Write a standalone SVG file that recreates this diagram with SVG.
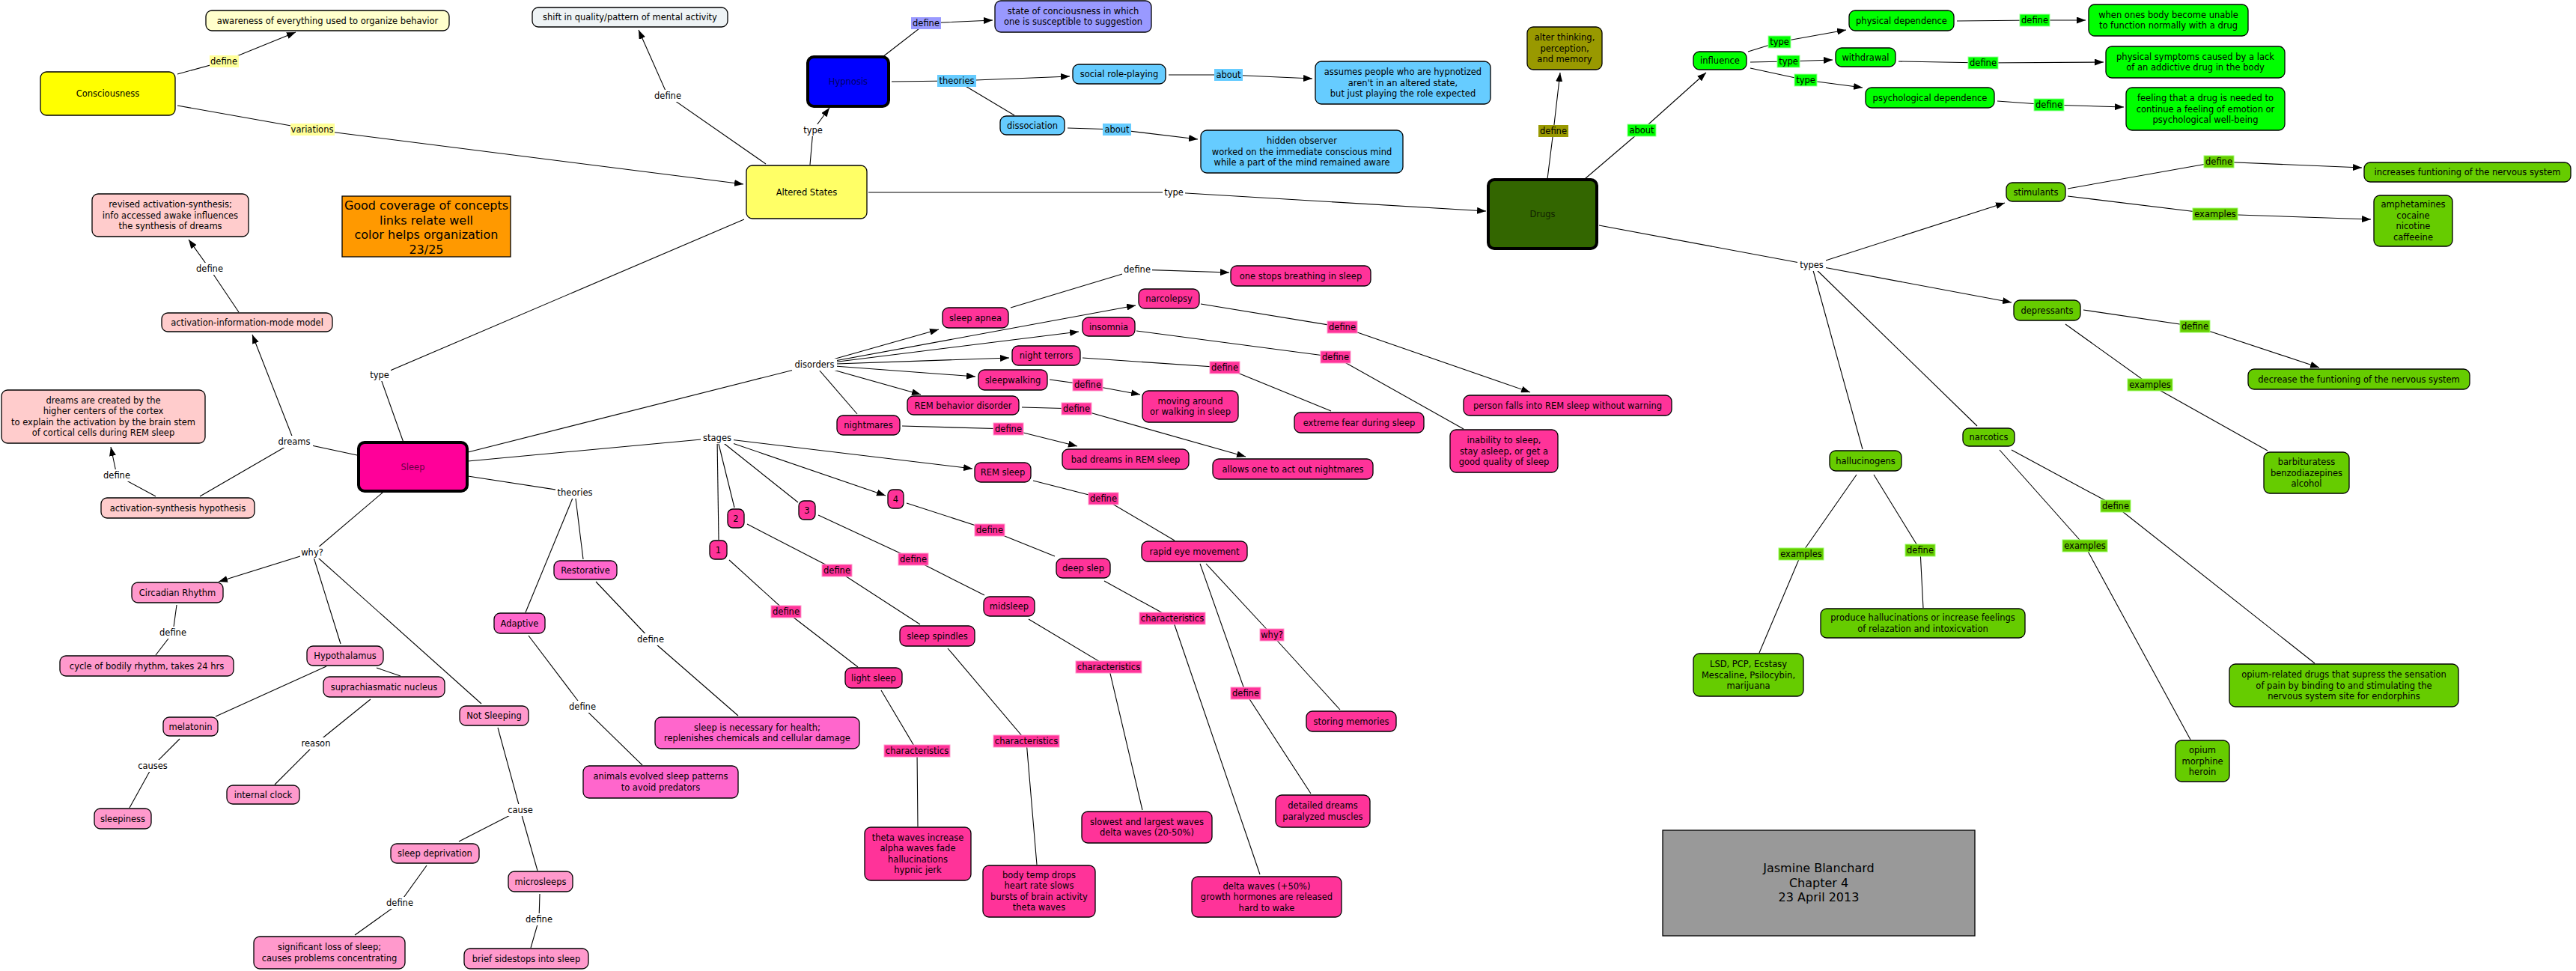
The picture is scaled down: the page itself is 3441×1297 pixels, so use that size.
<svg xmlns="http://www.w3.org/2000/svg" width="3441" height="1297" viewBox="0 0 3441 1297">
<defs>
<marker id="arr" viewBox="0 0 12 9" refX="12" refY="4.5" markerWidth="12" markerHeight="9" markerUnits="userSpaceOnUse" orient="auto"><path d="M0,0 L12,4.5 L0,9 z" fill="#000"/></marker>
<style>
text{font-family:"DejaVu Sans",Verdana,sans-serif;font-size:11.5px;text-anchor:middle;fill:#000}
.n{stroke:#000;stroke-width:1.3}
.thick{stroke:#000;stroke-width:4}
.big{font-size:16px}
.c line,.c polyline{stroke:#000;stroke-width:1.1;fill:none}
.a{marker-end:url(#arr)}
.lw{fill:#fff}
.ly{fill:#FFFF99}
.lv{fill:#9999FF}
.lb{fill:#66CCFF}
.lo{fill:#999900}
.lg{fill:#00FF00;stroke:#99FF99;stroke-width:1}
.ld{fill:#66CC00;stroke:#99FF66;stroke-width:1}
.lp{fill:#FF3399;stroke:#FF99CC;stroke-width:1}
</style>
</defs>
<rect width="3441" height="1297" fill="#fff"/>

<g id="connectors" class="c">
<polyline class="a" points="237,99 299,82 395,43"/>
<polyline class="a" points="237,141 417,173 993,246"/>
<polyline class="a" points="1023,219 892,128 853,40"/>
<polyline class="a" points="1082,220 1086,174 1108,144"/>
<polyline class="a" points="1179,76 1237,31 1326,27"/>
<polyline class="a" points="1191,109 1278,108 1429,102"/>
<polyline points="1278,108 1355,154"/>
<polyline class="a" points="1561,100 1641,100 1753,105"/>
<polyline class="a" points="1426,171 1492,173 1600,186"/>
<polyline class="a" points="1160,257 1568,257 1985,282"/>
<polyline points="994,293 507,501 539,591"/>
<polyline class="a" points="2067,239 2075,175 2084,97"/>
<polyline class="a" points="2117,239 2193,174 2279,97"/>
<polyline class="a" points="2335,69 2377,56 2466,40"/>
<polyline class="a" points="2338,83 2389,82 2448,80"/>
<polyline class="a" points="2338,91 2412,107 2488,117"/>
<polyline class="a" points="2614,28 2718,27 2786,27"/>
<polyline class="a" points="2536,82 2649,84 2810,83"/>
<polyline class="a" points="2668,135 2737,140 2837,143"/>
<polyline points="2136,301 2420,354"/>
<polyline class="a" points="2420,354 2678,271"/>
<polyline class="a" points="2420,354 2687,404"/>
<polyline points="2420,354 2488,600"/>
<polyline points="2420,354 2641,569"/>
<polyline class="a" points="2762,252 2964,216 3155,224"/>
<polyline class="a" points="2762,262 2959,286 3167,293"/>
<polyline class="a" points="2783,414 2932,436 3098,491"/>
<polyline points="2759,433 2872,514 3029,602"/>
<polyline points="2687,601 2826,676 3092,886"/>
<polyline points="2671,601 2785,729 2926,988"/>
<polyline points="2480,634 2406,740 2350,872"/>
<polyline points="2503,634 2565,735 2569,812"/>
<polyline class="a" points="477,608 393,590 337,447"/>
<polyline points="393,590 267,663"/>
<polyline class="a" points="208,663 156,635 148,597"/>
<polyline class="a" points="319,417 280,359 252,320"/>
<polyline points="625,604 1088,487"/>
<polyline class="a" points="1088,487 1254,440"/>
<polyline class="a" points="1088,487 1517,408"/>
<polyline class="a" points="1088,487 1441,443"/>
<polyline class="a" points="1088,487 1348,478"/>
<polyline class="a" points="1088,487 1303,503"/>
<polyline class="a" points="1088,487 1230,527"/>
<polyline points="1088,487 1145,553"/>
<polyline class="a" points="1350,411 1519,360 1642,364"/>
<polyline class="a" points="1604,406 1793,437 2044,524"/>
<polyline points="1518,442 1784,477 1955,573"/>
<polyline points="1446,478 1636,491 1778,549"/>
<polyline class="a" points="1402,507 1453,514 1523,527"/>
<polyline class="a" points="1365,544 1438,546 1664,610"/>
<polyline class="a" points="1205,569 1347,573 1439,596"/>
<polyline points="625,616 958,585"/>
<polyline class="a" points="958,585 1299,626"/>
<polyline class="a" points="958,585 1183,662"/>
<polyline points="958,585 1066,671"/>
<polyline points="958,585 981,678"/>
<polyline points="958,585 960,721"/>
<polyline points="1380,642 1474,666 1569,722"/>
<polyline points="1211,672 1322,708 1409,743"/>
<polyline points="1093,688 1220,747 1315,795"/>
<polyline points="998,700 1118,762 1229,834"/>
<polyline points="974,748 1050,817 1146,891"/>
<polyline points="1177,922 1225,1003 1226,1104"/>
<polyline points="1266,866 1371,990 1385,1155"/>
<polyline points="1374,827 1481,891 1526,1082"/>
<polyline points="1475,776 1566,826 1683,1168"/>
<polyline points="1611,753 1699,848 1790,948"/>
<polyline points="1603,753 1664,926 1751,1060"/>
<polyline points="625,636 768,658"/>
<polyline points="768,658 779,747"/>
<polyline points="768,658 702,818"/>
<polyline points="796,777 869,854 986,956"/>
<polyline points="706,849 778,944 858,1022"/>
<polyline points="511,658 417,738"/>
<polyline class="a" points="417,738 292,777"/>
<polyline points="417,738 455,860"/>
<polyline points="417,738 643,940"/>
<polyline points="236,808 231,845 208,875"/>
<polyline points="436,890 288,957"/>
<polyline points="503,892 535,903"/>
<polyline points="240,987 204,1023 173,1079"/>
<polyline points="495,934 422,993 367,1048"/>
<polyline points="665,972 695,1082"/>
<polyline points="695,1082 613,1124"/>
<polyline points="695,1082 718,1163"/>
<polyline points="570,1156 534,1206 474,1249"/>
<polyline points="721,1194 720,1228 709,1266"/>

<g id="labels">
<rect class="ly" x="280" y="74" width="39" height="16"/><text x="299" y="86">define</text>
<rect class="ly" x="388" y="165" width="59" height="16"/><text x="417" y="177">variations</text>
<rect class="lw" x="872" y="120" width="40" height="16"/><text x="892" y="132">define</text>
<rect class="lw" x="1071" y="166" width="30" height="16"/><text x="1086" y="178">type</text>
<rect class="lv" x="1217" y="23" width="40" height="16"/><text x="1237" y="35">define</text>
<rect class="lb" x="1252" y="100" width="52" height="16"/><text x="1278" y="112">theories</text>
<rect class="lb" x="1622" y="92" width="38" height="16"/><text x="1641" y="104">about</text>
<rect class="lb" x="1473" y="165" width="38" height="16"/><text x="1492" y="177">about</text>
<rect class="lw" x="1553" y="249" width="30" height="16"/><text x="1568" y="261">type</text>
<rect class="lw" x="492" y="493" width="30" height="16"/><text x="507" y="505">type</text>
<rect class="lo" x="2055" y="167" width="40" height="16"/><text x="2075" y="179">define</text>
<rect class="lg" x="2174" y="166" width="38" height="16"/><text x="2193" y="178">about</text>
<rect class="lg" x="2362" y="48" width="30" height="16"/><text x="2377" y="60">type</text>
<rect class="lg" x="2374" y="74" width="30" height="16"/><text x="2389" y="86">type</text>
<rect class="lg" x="2397" y="99" width="30" height="16"/><text x="2412" y="111">type</text>
<rect class="lg" x="2698" y="19" width="40" height="16"/><text x="2718" y="31">define</text>
<rect class="lg" x="2629" y="76" width="40" height="16"/><text x="2649" y="88">define</text>
<rect class="lg" x="2717" y="132" width="40" height="16"/><text x="2737" y="144">define</text>
<rect class="lw" x="2401" y="346" width="38" height="16"/><text x="2420" y="358">types</text>
<rect class="ld" x="2944" y="208" width="40" height="16"/><text x="2964" y="220">define</text>
<rect class="ld" x="2929" y="278" width="60" height="16"/><text x="2959" y="290">examples</text>
<rect class="ld" x="2912" y="428" width="40" height="16"/><text x="2932" y="440">define</text>
<rect class="ld" x="2842" y="506" width="60" height="16"/><text x="2872" y="518">examples</text>
<rect class="ld" x="2806" y="668" width="40" height="16"/><text x="2826" y="680">define</text>
<rect class="ld" x="2755" y="721" width="60" height="16"/><text x="2785" y="733">examples</text>
<rect class="ld" x="2376" y="732" width="60" height="16"/><text x="2406" y="744">examples</text>
<rect class="ld" x="2545" y="727" width="40" height="16"/><text x="2565" y="739">define</text>
<rect class="lw" x="368" y="582" width="50" height="16"/><text x="393" y="594">dreams</text>
<rect class="lw" x="136" y="627" width="40" height="16"/><text x="156" y="639">define</text>
<rect class="lw" x="260" y="351" width="40" height="16"/><text x="280" y="363">define</text>
<rect class="lw" x="1058" y="479" width="60" height="16"/><text x="1088" y="491">disorders</text>
<rect class="lw" x="1499" y="352" width="40" height="16"/><text x="1519" y="364">define</text>
<rect class="lp" x="1773" y="429" width="40" height="16"/><text x="1793" y="441">define</text>
<rect class="lp" x="1764" y="469" width="40" height="16"/><text x="1784" y="481">define</text>
<rect class="lp" x="1616" y="483" width="40" height="16"/><text x="1636" y="495">define</text>
<rect class="lp" x="1433" y="506" width="40" height="16"/><text x="1453" y="518">define</text>
<rect class="lp" x="1418" y="538" width="40" height="16"/><text x="1438" y="550">define</text>
<rect class="lp" x="1327" y="565" width="40" height="16"/><text x="1347" y="577">define</text>
<rect class="lw" x="936" y="577" width="44" height="16"/><text x="958" y="589">stages</text>
<rect class="lp" x="1454" y="658" width="40" height="16"/><text x="1474" y="670">define</text>
<rect class="lp" x="1302" y="700" width="40" height="16"/><text x="1322" y="712">define</text>
<rect class="lp" x="1200" y="739" width="40" height="16"/><text x="1220" y="751">define</text>
<rect class="lp" x="1098" y="754" width="40" height="16"/><text x="1118" y="766">define</text>
<rect class="lp" x="1030" y="809" width="40" height="16"/><text x="1050" y="821">define</text>
<rect class="lp" x="1181" y="995" width="88" height="16"/><text x="1225" y="1007">characteristics</text>
<rect class="lp" x="1327" y="982" width="88" height="16"/><text x="1371" y="994">characteristics</text>
<rect class="lp" x="1437" y="883" width="88" height="16"/><text x="1481" y="895">characteristics</text>
<rect class="lp" x="1522" y="818" width="88" height="16"/><text x="1566" y="830">characteristics</text>
<rect class="lp" x="1683" y="840" width="32" height="16"/><text x="1699" y="852">why?</text>
<rect class="lp" x="1644" y="918" width="40" height="16"/><text x="1664" y="930">define</text>
<rect class="lw" x="742" y="650" width="52" height="16"/><text x="768" y="662">theories</text>
<rect class="lw" x="849" y="846" width="40" height="16"/><text x="869" y="858">define</text>
<rect class="lw" x="758" y="936" width="40" height="16"/><text x="778" y="948">define</text>
<rect class="lw" x="401" y="730" width="32" height="16"/><text x="417" y="742">why?</text>
<rect class="lw" x="211" y="837" width="40" height="16"/><text x="231" y="849">define</text>
<rect class="lw" x="182" y="1015" width="44" height="16"/><text x="204" y="1027">causes</text>
<rect class="lw" x="400" y="985" width="44" height="16"/><text x="422" y="997">reason</text>
<rect class="lw" x="676" y="1074" width="38" height="16"/><text x="695" y="1086">cause</text>
<rect class="lw" x="514" y="1198" width="40" height="16"/><text x="534" y="1210">define</text>
<rect class="lw" x="700" y="1220" width="40" height="16"/><text x="720" y="1232">define</text>
</g>
</g>

<g id="n-consciousness"><rect class="n" x="54" y="96" width="180" height="58" rx="8" fill="#FFFF00"/><text x="144" y="129">Consciousness</text></g>
<g id="n-awareness"><rect class="n" x="275" y="14" width="325" height="27" rx="8" fill="#FFFFCC"/><text x="437.5" y="31.5">awareness of everything used to organize behavior</text></g>
<g id="n-shift"><rect class="n" x="711" y="10" width="261" height="26" rx="8" fill="#EEF3F5"/><text x="841.5" y="27">shift in quality/pattern of mental activity</text></g>
<g id="n-altered"><rect class="n" x="997" y="221" width="161" height="71" rx="8" fill="#FFFF66"/><text x="1077.5" y="260.5">Altered States</text></g>
<g id="n-hypnosis"><rect class="thick" x="1079" y="76" width="108" height="66" rx="8" fill="#0000FF"/><text x="1133" y="113" style="fill:#000066">Hypnosis</text></g>
<g id="n-state"><rect class="n" x="1329" y="1" width="209" height="42" rx="8" fill="#9999FF"/><text x="1433.5" y="18.5">state of conciousness in which<tspan x="1433.5" dy="14.5">one is susceptible to suggestion</tspan></text></g>
<g id="n-social"><rect class="n" x="1433" y="86" width="124" height="26" rx="8" fill="#66CCFF"/><text x="1495" y="103">social role-playing</text></g>
<g id="n-dissociation"><rect class="n" x="1336" y="155" width="86" height="25" rx="8" fill="#66CCFF"/><text x="1379" y="171.5">dissociation</text></g>
<g id="n-assumes"><rect class="n" x="1757" y="82" width="234" height="57" rx="8" fill="#66CCFF"/><text x="1874" y="100">assumes people who are hypnotized<tspan x="1874" dy="14.5">aren't in an altered state,</tspan><tspan x="1874" dy="14.5">but just playing the role expected</tspan></text></g>
<g id="n-hidden"><rect class="n" x="1604" y="174" width="270" height="57" rx="8" fill="#66CCFF"/><text x="1739" y="192">hidden observer<tspan x="1739" dy="14.5">worked on the immediate conscious mind</tspan><tspan x="1739" dy="14.5">while a part of the mind remained aware</tspan></text></g>
<g id="n-alter"><rect class="n" x="2040" y="36" width="100" height="57" rx="8" fill="#999900"/><text x="2090" y="54">alter thinking,<tspan x="2090" dy="14.5">perception,</tspan><tspan x="2090" dy="14.5">and memory</tspan></text></g>
<g id="n-drugs"><rect class="thick" x="1988" y="240" width="145" height="92" rx="8" fill="#336600"/><text x="2060.5" y="290" style="fill:#112200">Drugs</text></g>
<g id="n-influence"><rect class="n" x="2262" y="69" width="71" height="24" rx="8" fill="#00FF00"/><text x="2297.5" y="85">influence</text></g>
<g id="n-physdep"><rect class="n" x="2470" y="14" width="140" height="27" rx="8" fill="#00FF00"/><text x="2540" y="31.5">physical dependence</text></g>
<g id="n-withdrawal"><rect class="n" x="2452" y="64" width="80" height="25" rx="8" fill="#00FF00"/><text x="2492" y="80.5">withdrawal</text></g>
<g id="n-psychdep"><rect class="n" x="2492" y="117" width="172" height="27" rx="8" fill="#00FF00"/><text x="2578" y="134.5">psychological dependence</text></g>
<g id="n-when"><rect class="n" x="2790" y="6" width="213" height="42" rx="8" fill="#00FF00"/><text x="2896.5" y="23.75">when ones body become unable<tspan x="2896.5" dy="14.5">to function normally with a drug</tspan></text></g>
<g id="n-symptoms"><rect class="n" x="2813" y="62" width="239" height="42" rx="8" fill="#00FF00"/><text x="2932.5" y="79.75">physical symptoms caused by a lack<tspan x="2932.5" dy="14.5">of an addictive drug in the body</tspan></text></g>
<g id="n-feeling"><rect class="n" x="2840" y="117" width="212" height="57" rx="8" fill="#00FF00"/><text x="2946" y="135">feeling that a drug is needed to<tspan x="2946" dy="14.5">continue a feeling of emotion or</tspan><tspan x="2946" dy="14.5">psychological well-being</tspan></text></g>
<g id="n-stimulants"><rect class="n" x="2680" y="244" width="79" height="25" rx="8" fill="#66CC00"/><text x="2719.5" y="260.5">stimulants</text></g>
<g id="n-increases"><rect class="n" x="3158" y="217" width="276" height="26" rx="8" fill="#66CC00"/><text x="3296" y="234">increases funtioning of the nervous system</text></g>
<g id="n-amph"><rect class="n" x="3171" y="261" width="105" height="68" rx="8" fill="#66CC00"/><text x="3223.5" y="277.25">amphetamines<tspan x="3223.5" dy="14.5">cocaine</tspan><tspan x="3223.5" dy="14.5">nicotine</tspan><tspan x="3223.5" dy="14.5">caffeeine</tspan></text></g>
<g id="n-depressants"><rect class="n" x="2690" y="401" width="89" height="27" rx="8" fill="#66CC00"/><text x="2734.5" y="418.5">depressants</text></g>
<g id="n-decrease"><rect class="n" x="3003" y="493" width="296" height="27" rx="8" fill="#66CC00"/><text x="3151" y="510.5">decrease the funtioning of the nervous system</text></g>
<g id="n-barb"><rect class="n" x="3024" y="604" width="114" height="55" rx="8" fill="#66CC00"/><text x="3081" y="621">barbituratess<tspan x="3081" dy="14.5">benzodiazepines</tspan><tspan x="3081" dy="14.5">alcohol</tspan></text></g>
<g id="n-halluc"><rect class="n" x="2444" y="602" width="96" height="27" rx="8" fill="#66CC00"/><text x="2492" y="619.5">hallucinogens</text></g>
<g id="n-produce"><rect class="n" x="2432" y="813" width="273" height="39" rx="8" fill="#66CC00"/><text x="2568.5" y="829.25">produce hallucinations or increase feelings<tspan x="2568.5" dy="14.5">of relazation and intoxicvation</tspan></text></g>
<g id="n-lsd"><rect class="n" x="2262" y="873" width="147" height="57" rx="8" fill="#66CC00"/><text x="2335.5" y="891">LSD, PCP, Ecstasy<tspan x="2335.5" dy="14.5">Mescaline, Psilocybin,</tspan><tspan x="2335.5" dy="14.5">marijuana</tspan></text></g>
<g id="n-narcotics"><rect class="n" x="2622" y="572" width="69" height="24" rx="8" fill="#66CC00"/><text x="2656.5" y="588">narcotics</text></g>
<g id="n-opiumrel"><rect class="n" x="2978" y="887" width="306" height="57" rx="8" fill="#66CC00"/><text x="3131" y="905">opium-related drugs that supress the sensation<tspan x="3131" dy="14.5">of pain by binding to and stimulating the</tspan><tspan x="3131" dy="14.5">nervous system site for endorphins</tspan></text></g>
<g id="n-opium"><rect class="n" x="2906" y="989" width="72" height="55" rx="8" fill="#66CC00"/><text x="2942" y="1006">opium<tspan x="2942" dy="14.5">morphine</tspan><tspan x="2942" dy="14.5">heroin</tspan></text></g>
<g id="n-author"><rect class="n" x="2221" y="1109" width="417" height="141" fill="#999999"/><text class="big" x="2429.5" y="1165">Jasmine Blanchard<tspan x="2429.5" dy="19.5">Chapter 4</tspan><tspan x="2429.5" dy="19.5">23 April 2013</tspan></text></g>
<g id="n-grade"><rect class="n" x="457" y="262" width="225" height="81" fill="#FF9900"/><text class="big" x="569.5" y="280">Good coverage of concepts<tspan x="569.5" dy="19.5">links relate well</tspan><tspan x="569.5" dy="19.5">color helps organization</tspan><tspan x="569.5" dy="19.5">23/25</tspan></text></g>

<g id="n-sleep"><rect class="thick" x="479" y="591" width="145" height="65" rx="8" fill="#FF0099"/><text x="551.5" y="627.5" style="fill:#660044">Sleep</text></g>
<g id="n-revised"><rect class="n" x="123" y="259" width="209" height="57" rx="8" fill="#FFCCCC"/><text x="227.5" y="277">revised activation-synthesis;<tspan x="227.5" dy="14.5">info accessed awake influences</tspan><tspan x="227.5" dy="14.5">the synthesis of dreams</tspan></text></g>
<g id="n-aim"><rect class="n" x="216" y="418" width="228" height="25" rx="8" fill="#FFCCCC"/><text x="330" y="434.5">activation-information-mode model</text></g>
<g id="n-dreamsdef"><rect class="n" x="2" y="521" width="272" height="71" rx="8" fill="#FFCCCC"/><text x="138" y="538.75">dreams are created by the<tspan x="138" dy="14.5">higher centers of the cortex</tspan><tspan x="138" dy="14.5">to explain the activation by the brain stem</tspan><tspan x="138" dy="14.5">of cortical cells during REM sleep</tspan></text></g>
<g id="n-actsyn"><rect class="n" x="135" y="665" width="205" height="27" rx="8" fill="#FFCCCC"/><text x="237.5" y="682.5">activation-synthesis hypothesis</text></g>
<g id="n-apnea"><rect class="n" x="1259" y="411" width="88" height="27" rx="8" fill="#FF3399"/><text x="1303" y="428.5">sleep apnea</text></g>
<g id="n-narcolepsy"><rect class="n" x="1521" y="386" width="81" height="26" rx="8" fill="#FF3399"/><text x="1561.5" y="403">narcolepsy</text></g>
<g id="n-insomnia"><rect class="n" x="1446" y="424" width="70" height="25" rx="8" fill="#FF3399"/><text x="1481" y="440.5">insomnia</text></g>
<g id="n-onestops"><rect class="n" x="1644" y="355" width="187" height="27" rx="8" fill="#FF3399"/><text x="1737.5" y="372.5">one stops breathing in sleep</text></g>
<g id="n-personfalls"><rect class="n" x="1955" y="528" width="278" height="27" rx="8" fill="#FF3399"/><text x="2094" y="545.5">person falls into REM sleep without warning</text></g>
<g id="n-inability"><rect class="n" x="1937" y="574" width="144" height="57" rx="8" fill="#FF3399"/><text x="2009" y="592">inability to sleep,<tspan x="2009" dy="14.5">stay asleep, or get a</tspan><tspan x="2009" dy="14.5">good quality of sleep</tspan></text></g>
<g id="n-extreme"><rect class="n" x="1729" y="551" width="173" height="27" rx="8" fill="#FF3399"/><text x="1815.5" y="568.5">extreme fear during sleep</text></g>
<g id="n-terrors"><rect class="n" x="1352" y="462" width="91" height="26" rx="8" fill="#FF3399"/><text x="1397.5" y="479">night terrors</text></g>
<g id="n-sleepwalking"><rect class="n" x="1307" y="494" width="92" height="27" rx="8" fill="#FF3399"/><text x="1353" y="511.5">sleepwalking</text></g>
<g id="n-moving"><rect class="n" x="1526" y="522" width="128" height="42" rx="8" fill="#FF3399"/><text x="1590" y="539.75">moving around<tspan x="1590" dy="14.5">or walking in sleep</tspan></text></g>
<g id="n-rbd"><rect class="n" x="1212" y="529" width="149" height="25" rx="8" fill="#FF3399"/><text x="1286.5" y="545.5">REM behavior disorder</text></g>
<g id="n-allows"><rect class="n" x="1620" y="613" width="214" height="27" rx="8" fill="#FF3399"/><text x="1727" y="630.5">allows one to act out nightmares</text></g>
<g id="n-nightmares"><rect class="n" x="1118" y="555" width="84" height="26" rx="8" fill="#FF3399"/><text x="1160" y="572">nightmares</text></g>
<g id="n-baddreams"><rect class="n" x="1419" y="600" width="169" height="27" rx="8" fill="#FF3399"/><text x="1503.5" y="617.5">bad dreams in REM sleep</text></g>
<g id="n-remsleep"><rect class="n" x="1302" y="618" width="75" height="26" rx="8" fill="#FF3399"/><text x="1339.5" y="635">REM sleep</text></g>
<g id="n-s4"><rect class="n" x="1186" y="654" width="21" height="25" rx="7" fill="#FF3399"/><text x="1196.5" y="670.5">4</text></g>
<g id="n-s3"><rect class="n" x="1067" y="669" width="22" height="25" rx="7" fill="#FF3399"/><text x="1078" y="685.5">3</text></g>
<g id="n-s2"><rect class="n" x="972" y="680" width="22" height="25" rx="7" fill="#FF3399"/><text x="983" y="696.5">2</text></g>
<g id="n-s1"><rect class="n" x="948" y="722" width="23" height="25" rx="7" fill="#FF3399"/><text x="959.5" y="738.5">1</text></g>
<g id="n-rapid"><rect class="n" x="1525" y="723" width="141" height="27" rx="8" fill="#FF3399"/><text x="1595.5" y="740.5">rapid eye movement</text></g>
<g id="n-deep"><rect class="n" x="1411" y="746" width="72" height="26" rx="8" fill="#FF3399"/><text x="1447" y="763">deep slep</text></g>
<g id="n-midsleep"><rect class="n" x="1314" y="797" width="68" height="26" rx="8" fill="#FF3399"/><text x="1348" y="814">midsleep</text></g>
<g id="n-spindles"><rect class="n" x="1202" y="836" width="100" height="27" rx="8" fill="#FF3399"/><text x="1252" y="853.5">sleep spindles</text></g>
<g id="n-light"><rect class="n" x="1129" y="892" width="76" height="27" rx="8" fill="#FF3399"/><text x="1167" y="909.5">light sleep</text></g>
<g id="n-theta"><rect class="n" x="1155" y="1105" width="142" height="71" rx="8" fill="#FF3399"/><text x="1226" y="1122.75">theta waves increase<tspan x="1226" dy="14.5">alpha waves fade</tspan><tspan x="1226" dy="14.5">hallucinations</tspan><tspan x="1226" dy="14.5">hypnic jerk</tspan></text></g>
<g id="n-bodytemp"><rect class="n" x="1313" y="1156" width="150" height="69" rx="8" fill="#FF3399"/><text x="1388" y="1172.75">body temp drops<tspan x="1388" dy="14.5">heart rate slows</tspan><tspan x="1388" dy="14.5">bursts of brain activity</tspan><tspan x="1388" dy="14.5">theta waves</tspan></text></g>
<g id="n-slowest"><rect class="n" x="1445" y="1084" width="174" height="42" rx="8" fill="#FF3399"/><text x="1532" y="1101.75">slowest and largest waves<tspan x="1532" dy="14.5">delta waves (20-50%)</tspan></text></g>
<g id="n-delta"><rect class="n" x="1592" y="1171" width="200" height="54" rx="8" fill="#FF3399"/><text x="1692" y="1187.5">delta waves (+50%)<tspan x="1692" dy="14.5">growth hormones are released</tspan><tspan x="1692" dy="14.5">hard to wake</tspan></text></g>
<g id="n-detailed"><rect class="n" x="1704" y="1062" width="126" height="43" rx="8" fill="#FF3399"/><text x="1767" y="1080.25">detailed dreams<tspan x="1767" dy="14.5">paralyzed muscles</tspan></text></g>
<g id="n-storing"><rect class="n" x="1745" y="950" width="120" height="27" rx="8" fill="#FF3399"/><text x="1805" y="967.5">storing memories</text></g>
<g id="n-circadian"><rect class="n" x="176" y="778" width="122" height="27" rx="8" fill="#FF99CC"/><text x="237" y="795.5">Circadian Rhythm</text></g>
<g id="n-cycle"><rect class="n" x="80" y="876" width="232" height="27" rx="8" fill="#FF99CC"/><text x="196" y="893.5">cycle of bodily rhythm, takes 24 hrs</text></g>
<g id="n-hypothalamus"><rect class="n" x="410" y="863" width="102" height="26" rx="8" fill="#FF99CC"/><text x="461" y="880">Hypothalamus</text></g>
<g id="n-scn"><rect class="n" x="432" y="904" width="162" height="27" rx="8" fill="#FF99CC"/><text x="513" y="921.5">suprachiasmatic nucleus</text></g>
<g id="n-notsleeping"><rect class="n" x="614" y="943" width="92" height="26" rx="8" fill="#FF99CC"/><text x="660" y="960">Not Sleeping</text></g>
<g id="n-melatonin"><rect class="n" x="218" y="958" width="73" height="25" rx="8" fill="#FF99CC"/><text x="254.5" y="974.5">melatonin</text></g>
<g id="n-sleepiness"><rect class="n" x="126" y="1080" width="76" height="27" rx="8" fill="#FF99CC"/><text x="164" y="1097.5">sleepiness</text></g>
<g id="n-clock"><rect class="n" x="303" y="1049" width="97" height="25" rx="8" fill="#FF99CC"/><text x="351.5" y="1065.5">internal clock</text></g>
<g id="n-deprivation"><rect class="n" x="522" y="1127" width="118" height="26" rx="8" fill="#FF99CC"/><text x="581" y="1144">sleep deprivation</text></g>
<g id="n-microsleeps"><rect class="n" x="679" y="1164" width="86" height="27" rx="8" fill="#FF99CC"/><text x="722" y="1181.5">microsleeps</text></g>
<g id="n-significant"><rect class="n" x="339" y="1251" width="202" height="43" rx="8" fill="#FF99CC"/><text x="440" y="1269.25">significant loss of sleep;<tspan x="440" dy="14.5">causes problems concentrating</tspan></text></g>
<g id="n-brief"><rect class="n" x="620" y="1267" width="166" height="27" rx="8" fill="#FF99CC"/><text x="703" y="1284.5">brief sidestops into sleep</text></g>
<g id="n-restorative"><rect class="n" x="740" y="749" width="84" height="25" rx="8" fill="#FF66CC"/><text x="782" y="765.5">Restorative</text></g>
<g id="n-adaptive"><rect class="n" x="660" y="819" width="68" height="27" rx="8" fill="#FF66CC"/><text x="694" y="836.5">Adaptive</text></g>
<g id="n-necessary"><rect class="n" x="875" y="958" width="273" height="42" rx="8" fill="#FF66CC"/><text x="1011.5" y="975.75">sleep is necessary for health;<tspan x="1011.5" dy="14.5">replenishes chemicals and cellular damage</tspan></text></g>
<g id="n-animals"><rect class="n" x="779" y="1023" width="207" height="43" rx="8" fill="#FF66CC"/><text x="882.5" y="1041.25">animals evolved sleep patterns<tspan x="882.5" dy="14.5">to avoid predators</tspan></text></g>
</svg>
